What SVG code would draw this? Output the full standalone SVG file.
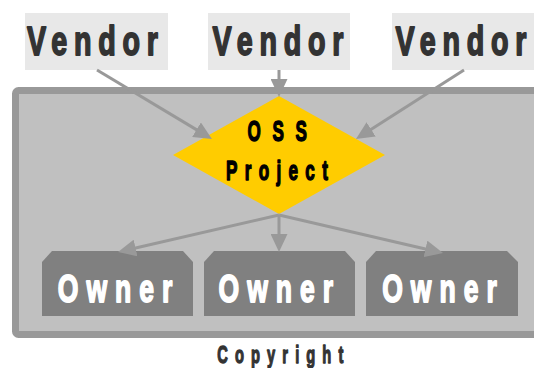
<svg xmlns="http://www.w3.org/2000/svg" width="534" height="368" viewBox="0 0 534 368">
<style>
.t{font-family:"Liberation Sans",Arial,sans-serif;font-weight:bold;stroke-linejoin:round}
.vbox{fill:#e8e8e8}
.vtxt{fill:#333333;stroke:#333333;stroke-width:1.8px;font-size:41px;letter-spacing:9.6px}
.obox{fill:#808080}
.otxt{fill:#ffffff;stroke:#ffffff;stroke-width:1.8px;font-size:39px;letter-spacing:11.8px}
.dtxt{fill:#000000;stroke:#000000;stroke-width:1.5px}
.conn{stroke:#999999;stroke-width:3;fill:none;marker-end:url(#ah)}
</style>
<defs>
<marker id="ah" markerUnits="userSpaceOnUse" markerWidth="18" markerHeight="17" refX="10" refY="8.5" orient="auto" viewBox="0 0 18 17">
<path d="M0,0 L18,8.5 L0,17 z" fill="#999999"/>
</marker>
</defs>
<g id="container">
<rect x="15.5" y="90.5" width="540" height="244" rx="3" fill="#c0c0c0" stroke="#999999" stroke-width="7"/>
<text class="t" transform="translate(217.3,363) scale(0.6,1)" font-size="24.5" fill="#333333" stroke="#333333" stroke-width="1.3" letter-spacing="11.8">Copyright</text>
</g>
<g id="vendor1">
<rect class="vbox" x="25" y="13" width="143" height="57"/>
<text class="t vtxt" transform="translate(27,55.3) scale(0.7,1)">Vendor</text>
</g>
<g id="vendor2">
<rect class="vbox" x="208" y="13" width="142" height="57"/>
<text class="t vtxt" transform="translate(212.5,55.3) scale(0.7,1)">Vendor</text>
</g>
<g id="vendor3">
<rect class="vbox" x="392" y="13" width="142" height="57"/>
<text class="t vtxt" transform="translate(395.5,55.3) scale(0.7,1)">Vendor</text>
</g>
<g id="project">
<polygon points="279,96 385,155 279,214 173,155" fill="#ffcc00"/>
<text class="t dtxt" transform="translate(247.5,141.2) scale(0.57,1)" font-size="30" letter-spacing="20.4">OSS</text>
<text class="t dtxt" transform="translate(226,180.3) scale(0.6,1)" font-size="28.5" letter-spacing="12.2">Project</text>
</g>
<g id="owner1">
<polygon class="obox" points="42,262 52,251 183,251 193,262 193,316 42,316"/>
<text class="t otxt" transform="translate(57.8,302.3) scale(0.68,1)">Owner</text>
</g>
<g id="owner2">
<polygon class="obox" points="204,262 214,251 345,251 355,262 355,316 204,316"/>
<text class="t otxt" transform="translate(218.5,302.3) scale(0.68,1)">Owner</text>
</g>
<g id="owner3">
<polygon class="obox" points="366,262 376,251 507,251 518,262 518,316 366,316"/>
<text class="t otxt" transform="translate(382.2,302.3) scale(0.68,1)">Owner</text>
</g>
<g id="connectors">
<line class="conn" x1="97" y1="70" x2="205.1" y2="134.9"/>
<line class="conn" x1="279" y1="70" x2="279" y2="89"/>
<line class="conn" x1="464" y1="70" x2="362.7" y2="134.7"/>
<line class="conn" x1="279" y1="215" x2="125.8" y2="250.2"/>
<line class="conn" x1="279" y1="215" x2="279" y2="244"/>
<line class="conn" x1="279" y1="215" x2="435.2" y2="251.2"/>
</g>
</svg>
